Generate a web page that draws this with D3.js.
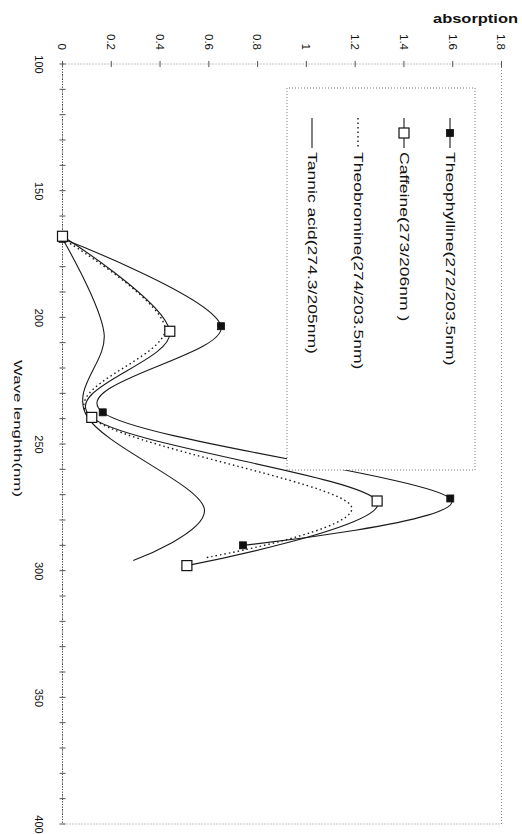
<!DOCTYPE html>
<html>
<head>
<meta charset="utf-8">
<script src="https://cdn.jsdelivr.net/npm/d3@7"></script>
<style>
  body { margin: 0; background: #fff; }
  text { font-family: "Liberation Sans", Arial, sans-serif; fill: #111; }
</style>
</head>
<body>
<div id="viz"></div>
<script>
// data (wavelength in nm, absorption)
const seriesNames = ["Theophylline(272/203.5nm)", "Caffeine(273/206nm )", "Theobromine(274/203.5nm)", "Tannic acid(274.3/205nm)"];
const theophyllineNm = [169, 203.5, 237.5, 271.5, 290];
const theophyllineAbs = [0, 0.65, 0.165, 1.59, 0.74];
const caffeineNm = [168, 205.5, 239.5, 272.5, 298];
const caffeineAbs = [0, 0.44, 0.12, 1.29, 0.51];
const theobromineNm = [169, 204, 239, 274, 295];
const theobromineAbs = [0, 0.42, 0.11, 1.18, 0.58];
const tannicNm = [169, 206, 239, 275, 296];
const tannicAbs = [0, 0.17, 0.1, 0.58, 0.29];

const waveTicks = [100, 150, 200, 250, 300, 350, 400];
const absTicks = [0, 0.2, 0.4, 0.6, 0.8, 1, 1.2, 1.4, 1.6, 1.8];
const absTickLabels = ["0", "0.2", "0.4", "0.6", "0.8", "1", "1.2", "1.4", "1.6", "1.8"];

const zip = (nm, ab) => nm.map((n, i) => ({nm: n, abs: ab[i]}));
const series = [
  {name: seriesNames[0], values: zip(theophyllineNm, theophyllineAbs), marker: "filled", dash: null},
  {name: seriesNames[1], values: zip(caffeineNm, caffeineAbs), marker: "open", dash: null},
  {name: seriesNames[2], values: zip(theobromineNm, theobromineAbs), marker: null, dash: "1.5,3"},
  {name: seriesNames[3], values: zip(tannicNm, tannicAbs), marker: null, dash: null}
];

const W = 760, H = 439;

const svg = d3.select("#viz")
  .append("svg")
    .attr("width", 522)
    .attr("height", 834);

// the whole chart is turned a quarter turn clockwise
const g = svg.append("g")
  .attr("transform", "translate(501.5,64) rotate(90)");

const x = d3.scaleLinear().domain([100, 400]).range([0, W]);
const y = d3.scaleLinear().domain([0, 1.8]).range([H, 0]);

// frame (dotted)
g.append("rect")
  .attr("x", 0).attr("y", 0)
  .attr("width", W).attr("height", H)
  .attr("fill", "none")
  .attr("stroke", "#888")
  .attr("stroke-width", 1)
  .attr("stroke-dasharray", "1,2");

// wavelength axis line, a bit darker
g.append("line")
  .attr("x1", 0).attr("x2", W)
  .attr("y1", H).attr("y2", H)
  .attr("stroke", "#444")
  .attr("stroke-dasharray", "1,1.5");

// small crossing ticks every 10 nm
g.append("g")
  .selectAll("line")
  .data(d3.range(100, 401, 10))
  .join("line")
    .attr("x1", d => x(d)).attr("x2", d => x(d))
    .attr("y1", H - 3).attr("y2", H + 3)
    .attr("stroke", "#555");

g.append("g")
  .selectAll("line")
  .data(absTicks)
  .join("line")
    .attr("x1", -3).attr("x2", 3)
    .attr("y1", d => y(d)).attr("y2", d => y(d))
    .attr("stroke", "#555");

const xAxis = g.append("g")
  .attr("transform", `translate(0,${H})`)
  .call(d3.axisBottom(x).tickValues(waveTicks).tickSize(0).tickPadding(19.5));
xAxis.select(".domain").remove();
xAxis.selectAll("text")
  .style("font-size", "11px")
  .style("font-family", "Liberation Sans, Arial, sans-serif");

const yAxis = g.append("g")
  .call(d3.axisLeft(y).tickValues(absTicks).tickSize(0).tickPadding(14)
    .tickFormat((d, i) => absTickLabels[i]));
yAxis.select(".domain").remove();
yAxis.selectAll("text")
  .style("font-size", "11.5px")
  .style("font-family", "Liberation Sans, Arial, sans-serif");

// curves
const line = d3.line()
  .x(d => x(d.nm))
  .y(d => y(d.abs))
  .curve(d3.curveCardinal.tension(0));

g.selectAll(".series")
  .data(series)
  .join("path")
    .attr("class", "series")
    .attr("d", d => line(d.values))
    .attr("fill", "none")
    .attr("stroke", "#1a1a1a")
    .attr("stroke-width", d => d.dash ? 1.4 : 1.1)
    .attr("stroke-dasharray", d => d.dash);

// markers
series.filter(s => s.marker).forEach(s => {
  const sz = s.marker === "filled" ? 7 : 10;
  g.append("g")
    .selectAll("rect")
    .data(s.values)
    .join("rect")
      .attr("x", d => x(d.nm) - sz / 2)
      .attr("y", d => y(d.abs) - sz / 2)
      .attr("width", sz)
      .attr("height", sz)
      .attr("fill", s.marker === "filled" ? "#111" : "#fff")
      .attr("stroke", "#111")
      .attr("stroke-width", s.marker === "filled" ? 0.8 : 1.2);
});

// legend
const legend = g.append("g");
legend.append("rect")
  .attr("x", 24).attr("y", 26.5)
  .attr("width", 382).attr("height", 188)
  .attr("fill", "#fff")
  .attr("stroke", "#777")
  .attr("stroke-dasharray", "1,2");

series.forEach((s, i) => {
  const v = 51.5 + i * 46;
  legend.append("line")
    .attr("x1", 54).attr("x2", 84)
    .attr("y1", v).attr("y2", v)
    .attr("stroke", "#1a1a1a")
    .attr("stroke-width", s.dash ? 1.4 : 1.1)
    .attr("stroke-dasharray", s.dash);
  if (s.marker) {
    const sz = s.marker === "filled" ? 7 : 10;
    legend.append("rect")
      .attr("x", 69 - sz / 2).attr("y", v - sz / 2)
      .attr("width", sz).attr("height", sz)
      .attr("fill", s.marker === "filled" ? "#111" : "#fff")
      .attr("stroke", "#111")
      .attr("stroke-width", s.marker === "filled" ? 0.8 : 1.2);
  }
  legend.append("text")
    .attr("transform", `translate(88,${v + 4.5}) scale(1.35,1)`)
    .style("font-size", "13px")
    .text(s.name);
});

// axis titles
g.append("text")
  .attr("x", 364.5)
  .attr("y", 488)
  .attr("text-anchor", "middle")
  .attr("textLength", 137)
  .attr("lengthAdjust", "spacingAndGlyphs")
  .style("font-size", "11.5px")
  .text("Wave lenghth(nm)");

svg.append("text")
  .attr("x", 433)
  .attr("y", 23)
  .attr("textLength", 85)
  .attr("lengthAdjust", "spacingAndGlyphs")
  .style("font-size", "12px")
  .style("font-weight", "bold")
  .text("absorption");
</script>
</body>
</html>
